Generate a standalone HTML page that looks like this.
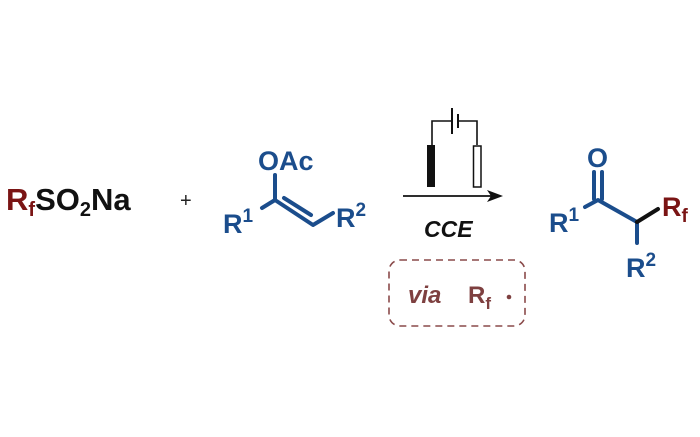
<!DOCTYPE html>
<html><head><style>
html,body{margin:0;padding:0;background:#fff;}
svg{display:block;}
text{font-family:"Liberation Sans",Arial,sans-serif;font-weight:bold;}
</style></head><body>
<svg width="700" height="437" viewBox="0 0 700 437" xmlns="http://www.w3.org/2000/svg">
<rect width="700" height="437" fill="#fff"/>
<!-- RfSO2Na -->
<text x="6" y="210" font-size="31" fill="#111"><tspan fill="#7a1414">R</tspan><tspan fill="#7a1414" font-size="20" dy="6">f</tspan><tspan dy="-6">SO</tspan><tspan font-size="20" dy="6">2</tspan><tspan dy="-6">Na</tspan></text>
<text x="180" y="207" font-size="20" font-weight="normal" fill="#222" style="font-weight:normal">+</text>
<!-- enol acetate -->
<g stroke="#1b4d8c" stroke-width="4" fill="none" stroke-linecap="round" stroke-linejoin="round">
<polyline points="262,208 275,200 313,225 333,213"/>
<line x1="275" y1="200" x2="275" y2="175"/>
<line x1="284" y1="198" x2="311" y2="215"/>
</g>
<g fill="#1b4d8c">
<text x="258" y="170" font-size="27">OAc</text>
<text x="223" y="233" font-size="27">R<tspan font-size="19" dy="-11">1</tspan></text>
<text x="336" y="227" font-size="27">R<tspan font-size="19" dy="-11">2</tspan></text>
</g>
<!-- circuit -->
<g stroke="#111" stroke-width="1.6" fill="none">
<polyline points="432,145 432,121 452,121"/>
<polyline points="458,121 477,121 477,145"/>
<line x1="452" y1="108" x2="452" y2="134" stroke-width="2"/>
<line x1="458" y1="114" x2="458" y2="128" stroke-width="2"/>
<rect x="473.5" y="146" width="7.5" height="41" stroke-width="1.5"/>
<line x1="403" y1="196" x2="495" y2="196" stroke-width="1.8"/>
</g>
<rect x="427" y="145" width="8" height="42" fill="#111"/>
<polygon points="503,196 487,190 491,196 487,202" fill="#111"/>
<text x="424" y="237" font-size="23" font-style="italic" fill="#111">CCE</text>
<!-- via box -->
<rect x="389" y="260" width="136" height="66" rx="11" fill="none" stroke="#8a4a4a" stroke-width="1.6" stroke-dasharray="7,5"/>
<text x="408" y="303" font-size="24" font-style="italic" fill="#7e4040">via</text>
<text x="468" y="303" font-size="24" fill="#7e4040">R<tspan font-size="17" dy="6">f</tspan></text>
<circle cx="509" cy="297" r="2.3" fill="#7e4040"/>
<!-- product -->
<g stroke="#1b4d8c" stroke-width="4" fill="none" stroke-linecap="round" stroke-linejoin="round">
<polyline points="585,207 598,200 637,222 637,243"/>
<line x1="594" y1="199" x2="594" y2="172"/>
<line x1="602" y1="199" x2="602" y2="172"/>
</g>
<line x1="637" y1="222" x2="658" y2="209" stroke="#111" stroke-width="4" stroke-linecap="round"/>
<text x="587" y="167" font-size="27" fill="#1b4d8c">O</text>
<text x="549" y="232" font-size="27" fill="#1b4d8c">R<tspan font-size="19" dy="-11">1</tspan></text>
<text x="626" y="277" font-size="27" fill="#1b4d8c">R<tspan font-size="19" dy="-11">2</tspan></text>
<text x="662" y="216" font-size="27" fill="#7a1414">R<tspan font-size="19" dy="6">f</tspan></text>
</svg>
</body></html>
